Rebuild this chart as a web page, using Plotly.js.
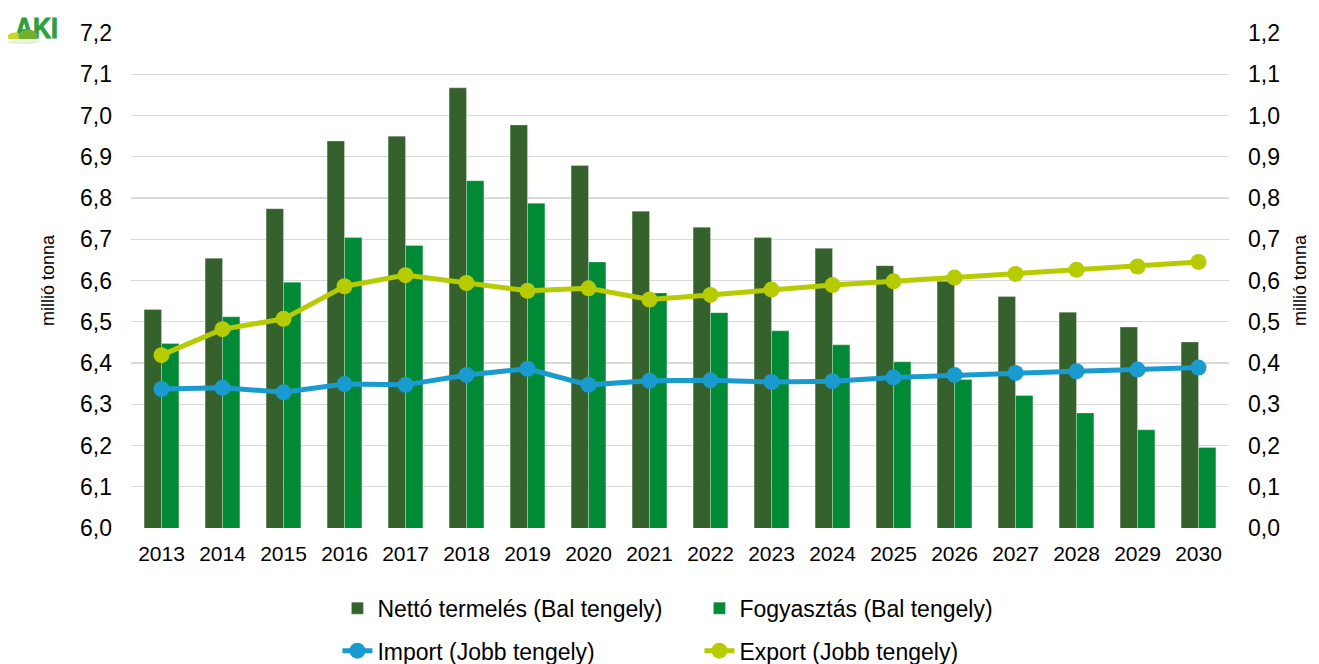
<!DOCTYPE html>
<html>
<head>
<meta charset="utf-8">
<script src="https://cdn.plot.ly/plotly-3.0.1.min.js"></script>
<style>html,body{margin:0;padding:0;background:#fff;}#chart{width:1319px;height:664px;}</style>
</head>
<body>
<div id="chart"></div>
<script>
const years = ['2013','2014','2015','2016','2017','2018','2019','2020','2021','2022','2023','2024','2025','2026','2027','2028','2029','2030'];
const nettoTermeles = [6.530,6.654,6.774,6.938,6.950,7.067,6.977,6.879,6.768,6.729,6.704,6.678,6.636,6.598,6.561,6.523,6.487,6.451];
const fogyasztas = [6.447,6.512,6.596,6.704,6.685,6.842,6.787,6.645,6.570,6.522,6.478,6.444,6.403,6.360,6.321,6.279,6.238,6.195];
const importVals = [0.337,0.340,0.329,0.349,0.347,0.371,0.386,0.347,0.357,0.358,0.354,0.356,0.365,0.371,0.376,0.380,0.384,0.389];
const exportVals = [0.419,0.482,0.507,0.586,0.613,0.594,0.575,0.581,0.554,0.565,0.578,0.589,0.598,0.607,0.616,0.626,0.634,0.645];
const leftTicks = ['6,0','6,1','6,2','6,3','6,4','6,5','6,6','6,7','6,8','6,9','7,0','7,1','7,2'];
const rightTicks = ['0,0','0,1','0,2','0,3','0,4','0,5','0,6','0,7','0,8','0,9','1,0','1,1','1,2'];

const FONT = 'Liberation Sans, Arial, sans-serif';

const traces = [
  {type:'bar', name:'Nettó termelés (Bal tengely)', x:years, y:nettoTermeles, yaxis:'y',
   marker:{color:'#35622C', line:{color:'rgba(255,255,255,0.45)', width:0.6}}, legend:'legend'},
  {type:'bar', name:'Fogyasztás (Bal tengely)', x:years, y:fogyasztas, yaxis:'y',
   marker:{color:'#008A36', line:{color:'rgba(255,255,255,0.45)', width:0.6}}, legend:'legend'},
  {type:'scatter', mode:'lines+markers', name:'Import (Jobb tengely)', x:years, y:importVals, yaxis:'y2',
   line:{color:'#1A9BD0', width:5}, marker:{color:'#1A9BD0', size:16}, legend:'legend2'},
  {type:'scatter', mode:'lines+markers', name:'Export (Jobb tengely)', x:years, y:exportVals, yaxis:'y2',
   line:{color:'#B6CC00', width:5}, marker:{color:'#B6CC00', size:16}, legend:'legend2'}
];

const tickVals = leftTicks.map((t,i)=>6.0+i*0.1);
const tickVals2 = rightTicks.map((t,i)=>i*0.1);

const logoSvg = "<svg xmlns='http://www.w3.org/2000/svg' width='52' height='34' viewBox='8 13 52 34'>" +
  "<text x='15' y='37.5' font-family='Liberation Sans, Arial' font-weight='bold' font-size='29' fill='#2DA03A' stroke='#2DA03A' stroke-width='1' textLength='43' lengthAdjust='spacingAndGlyphs'>AKI</text>" +
  "<ellipse cx='15' cy='37' rx='7.5' ry='4.5' fill='#C4D92B'/>" +
  "<ellipse cx='28' cy='36' rx='9.5' ry='6.5' fill='#73B032'/>" +
  "<rect x='6' y='39' width='56' height='10' fill='#ffffff'/>" +
  "<ellipse cx='24' cy='42' rx='16' ry='2' fill='#e6f0dc'/>" +
  "</svg>";

const layout = {
  width:1319, height:664,
  margin:{l:131, r:90, t:33, b:136, autoexpand:false},
  paper_bgcolor:'#ffffff', plot_bgcolor:'#ffffff',
  font:{family:FONT, color:'#000000', size:20},
  separators:', ',
  barmode:'group', bargap:0.43, bargroupgap:0,
  showlegend:true,
  xaxis:{type:'category', range:[-0.5, years.length-0.5], tickfont:{size:21}, showgrid:false, zeroline:false, showline:false, ticks:'', ticklabelstandoff:11, automargin:false, fixedrange:true},
  yaxis:{range:[6.0,7.2], tickvals:tickVals, ticktext:leftTicks, tickfont:{size:23}, showgrid:true, gridcolor:'#D9D9D9', gridwidth:1.4,
         zeroline:false, showline:false, ticks:'', ticklabelstandoff:18, automargin:false,
         title:{text:'millió tonna', font:{size:18}, standoff:20}},
  yaxis2:{range:[0,1.2], overlaying:'y', side:'right', tickvals:tickVals2, ticktext:rightTicks, tickfont:{size:23}, showgrid:false,
          zeroline:false, showline:false, ticks:'', ticklabelstandoff:18, automargin:false,
          title:{text:'millió tonna', font:{size:18}, standoff:14}},
  legend:{orientation:'h', x:0.188, xanchor:'left', y:-0.162, yanchor:'middle', entrywidth:317, entrywidthmode:'pixels',
          font:{size:23}, bgcolor:'rgba(0,0,0,0)', traceorder:'normal'},
  legend2:{orientation:'h', x:0.188, xanchor:'left', y:-0.248, yanchor:'middle', entrywidth:317, entrywidthmode:'pixels',
          font:{size:23}, bgcolor:'rgba(0,0,0,0)', traceorder:'normal'},
  images:[{source:'data:image/svg+xml;charset=utf-8,'+encodeURIComponent(logoSvg), xref:'paper', yref:'paper',
           x:(8-131)/1098, y:1+(33-13)/495, sizex:52/1098, sizey:34/495, xanchor:'left', yanchor:'top', sizing:'stretch', layer:'above'}]
};

Plotly.newPlot('chart', traces, layout, {displayModeBar:false, staticPlot:true});
</script>
</body>
</html>
